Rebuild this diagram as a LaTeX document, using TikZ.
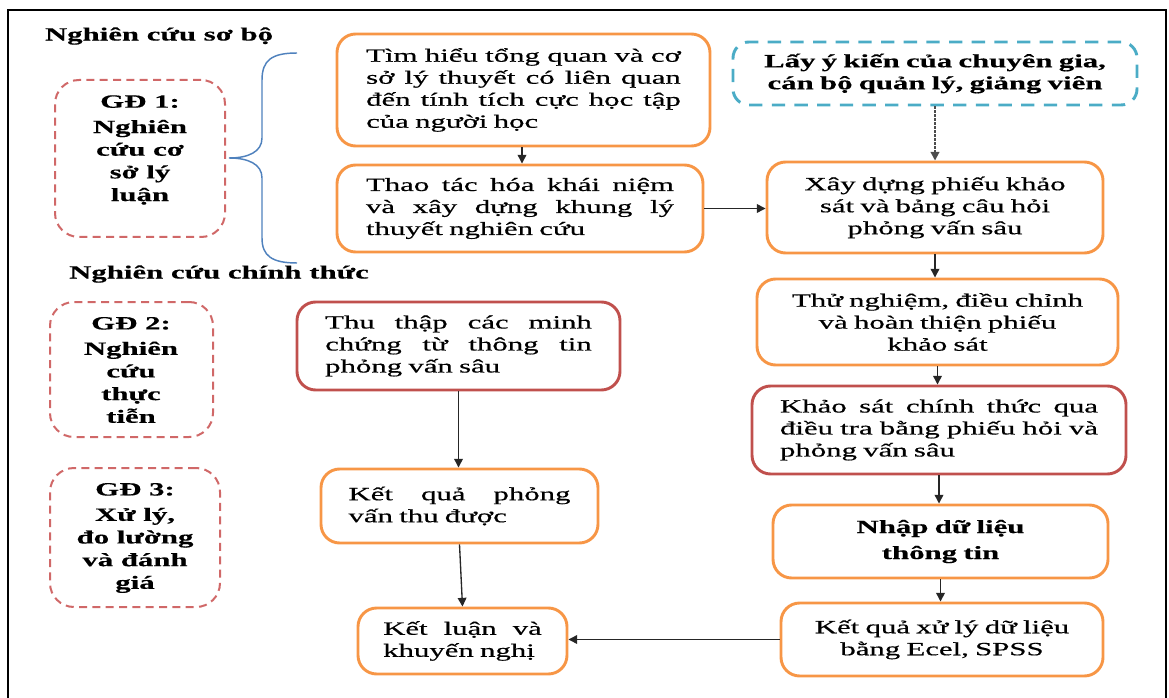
\documentclass[tikz,border=0pt]{standalone}
\usepackage{fontspec}
\setmainfont{Liberation Serif}[FakeStretch=1.65, UprightFeatures={FakeBold=0.5}, BoldFeatures={FakeBold=0.4}]
\usetikzlibrary{arrows.meta}
\definecolor{orangeB}{RGB}{247,150,70}
\definecolor{redB}{RGB}{192,80,77}
\definecolor{gdred}{RGB}{208,104,104}
\definecolor{cyanB}{RGB}{75,172,198}
\definecolor{braceblue}{RGB}{79,129,189}
\newcommand\jl[2]{\leavevmode\hbox to #1{\spaceskip=0.3em plus 1fil minus 0.1em #2}}
\begin{document}
\begin{tikzpicture}[x=0.75pt,y=-0.75pt,
  every node/.style={font=\fontsize{14}{16.5}\selectfont, inner sep=0pt, text=black},
  bx/.style n args={4}{minimum width={(#3-#1)*0.75pt}, minimum height={(#4-#2)*0.75pt},
     at={({(#1+#3)/2},{(#2+#4)/2})}},
  obox/.style={draw=orangeB, line width=2.2pt, rounded corners=14pt},
  rbox/.style={draw=redB, line width=2.2pt, rounded corners=14pt},
  gdbox/.style={draw=gdred, line width=1.5pt, dash pattern=on 6pt off 4pt, rounded corners=18pt},
  cbox/.style={draw=cyanB, line width=2.2pt, dash pattern=on 10pt off 7pt, rounded corners=12pt},
  gdtext/.style={align=center, font=\fontsize{14}{17}\selectfont\bfseries},
  head/.style={font=\fontsize{14}{16.5}\selectfont\bfseries},
  arr/.style={-{Triangle[length=6.5pt,width=6.5pt]}, line width=1pt, draw=black!85},
  brace/.style={draw=braceblue, line width=1.1pt}
]
\useasboundingbox (0,0) rectangle (1169,698);
% outer frame
\draw[line width=1.5pt] (8,698) -- (8,10) -- (1166,10) -- (1166,698);

% headings
\node[head] (h1) at (159,36) {Nghiên cứu sơ bộ};
\node[head] (h2) at (219,274) {Nghiên cứu chính thức};

% stage boxes
\node[gdbox, bx={55}{80}{225}{237}] (gd1) {};
\node[gdtext] (gd1t) at (140,150) {GĐ 1:\\[2pt]Nghiên\\cứu cơ\\sở lý\\luận};
\node[gdbox, bx={50}{302}{213}{437}] (gd2) {};
\node[gdtext] (gd2t) at (131,370) {GĐ 2:\\[2pt]Nghiên\\cứu\\thực\\tiễn};
\node[gdbox, bx={50}{468}{220}{607}] (gd3) {};
\node[gdtext] (gd3t) at (135,538) {GĐ 3:\\[2pt]Xử lý,\\đo lường\\và đánh\\giá};

% brace
\draw[brace] (297,53) .. controls (272,53) and (262,60) .. (262,80) -- (262,138)
  .. controls (262,152) and (248,158) .. (229,158)
  .. controls (248,158) and (262,164) .. (262,178) -- (262,238)
  .. controls (262,256) and (272,263) .. (297,263);

% boxes
\node[obox, bx={337}{34}{710}{146}, text width=236pt, align=left] (A)
  {\jl{236pt}{Tìm hiểu tổng quan và cơ}\\\jl{236pt}{sở lý thuyết có liên quan}\\\jl{236pt}{đến tính tích cực học tập}\\của người học};
\node[obox, bx={337}{165}{703}{252}, text width=231pt, align=left] (B)
  {\jl{231pt}{Thao tác hóa khái niệm}\\\jl{231pt}{và xây dựng khung lý}\\thuyết nghiên cứu};
\node[cbox, bx={733}{42}{1137}{105}, text width=290pt, align=center, font=\fontsize{14}{16.5}\selectfont\bfseries] (C)
  {Lấy ý kiến của chuyên gia,\\cán bộ quản lý, giảng viên};
\node[obox, bx={767}{162}{1103}{253}, text width=240pt, align=center] (D)
  {Xây dựng phiếu khảo\\sát và bảng câu hỏi\\phỏng vấn sâu};
\node[obox, bx={757}{279}{1118}{365}, text width=260pt, align=center] (E)
  {Thử nghiệm, điều chỉnh\\và hoàn thiện phiếu\\khảo sát};
\node[rbox, bx={752}{386}{1126}{474}, text width=238.5pt, align=left] (G)
  {\jl{238.5pt}{Khảo sát chính thức qua}\\\jl{238.5pt}{điều tra bằng phiếu hỏi và}\\phỏng vấn sâu};
\node[obox, bx={773}{505}{1108}{578}, text width=240pt, align=center, font=\fontsize{14}{19.5}\selectfont\bfseries] (H)
  {Nhập dữ liệu\\thông tin};
\node[obox, bx={781}{603}{1103}{676}, text width=235pt, align=center] (I)
  {Kết quả xử lý dữ liệu\\bằng Ecel, SPSS};
\node[rbox, bx={297}{302}{620}{390}, text width=200pt, align=left] (F)
  {\jl{200pt}{Thu thập các minh}\\\jl{200pt}{chứng từ thông tin}\\phỏng vấn sâu};
\node[obox, bx={321}{469}{598}{543}, text width=166.5pt, align=left] (J)
  {\jl{166.5pt}{Kết quả phỏng}\\vấn thu được};
\node[obox, bx={358}{608}{567}{674}, text width=119pt, align=left] (K)
  {\jl{119pt}{Kết luận và}\\khuyến nghị};

% connectors
\draw[arr] (A.south -| 522,0) -- (B.north -| 522,0);
\draw[arr] (B.east) -- (B.east -| D.west);
\draw[arr, dash pattern=on 1.8pt off 1.2pt, line width=1.4pt, draw=black!70] (C.south) -- (D.north);
\draw[arr] (D.south) -- (D.south |- E.north);
\draw[arr] (E.south) -- (E.south |- G.north);
\draw[arr] (G.south) -- (G.south |- H.north);
\draw[arr] (H.south) -- (H.south |- I.north);
\draw[arr] (F.south) -- (F.south |- J.north);
\draw[arr] (J.south) -- (K.north);
\draw[arr] (I.west) -- (I.west -| K.east);
\end{tikzpicture}
\end{document}
